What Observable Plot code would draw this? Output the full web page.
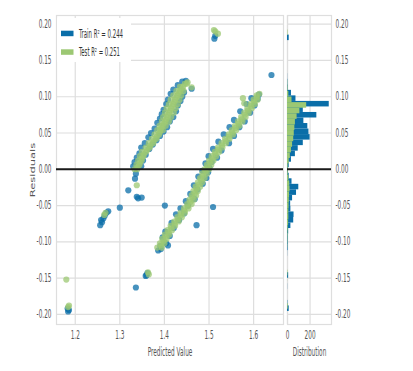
<!DOCTYPE html>
<html>
<head>
<meta charset="utf-8">
<script src="https://cdn.jsdelivr.net/npm/d3@7"></script>
<script src="https://cdn.jsdelivr.net/npm/@observablehq/plot@0.6"></script>
<style>
  html, body { margin: 0; padding: 0; background: #fff; }
  #wrap { position: relative; width: 413px; height: 371px; overflow: hidden; font-family: 'DejaVu Sans', sans-serif; }
  #wrap svg { position: absolute; top: 0; background: transparent; }
</style>
</head>
<body>
<div id="wrap"></div>
<script>
// ---- data ----
const blue = "#0a6ea8";
const green = "#9cc873";
const seriesNames = ["Train", "Test"];
const r2Values = [0.244, 0.251];
const xTicks = [1.2, 1.3, 1.4, 1.5, 1.6];
const yTicks = [-0.20, -0.15, -0.10, -0.05, 0.00, 0.05, 0.10, 0.15, 0.20];
const histTicks = [0, 200];

const trainPoints = [
  // left band (edges)
  [1.336,-0.006],[1.334,-0.013],[1.330,0.004],[1.333,0.010],[1.348,0.004],[1.352,0.012],[1.338,0.016],[1.344,0.022],
  [1.358,0.020],[1.348,0.030],[1.366,0.028],[1.356,0.036],[1.374,0.034],[1.364,0.044],[1.382,0.040],[1.370,0.050],
  [1.390,0.046],[1.378,0.056],[1.398,0.052],[1.384,0.064],[1.406,0.058],[1.390,0.070],[1.412,0.066],[1.394,0.076],
  [1.420,0.072],[1.398,0.082],[1.426,0.080],[1.404,0.090],[1.430,0.088],[1.408,0.096],[1.436,0.094],[1.414,0.104],
  [1.440,0.100],[1.420,0.110],[1.444,0.106],[1.430,0.116],[1.448,0.122],[1.440,0.121],[1.461,0.111],
  // long right band (edges, irregular)
  [1.386,-0.112],[1.391,-0.106],[1.404,-0.102],[1.396,-0.094],[1.412,-0.092],[1.402,-0.086],
  [1.421,-0.081],[1.416,-0.074],[1.433,-0.070],[1.426,-0.062],[1.444,-0.061],[1.436,-0.054],
  [1.453,-0.050],[1.448,-0.044],[1.468,-0.041],[1.458,-0.034],[1.474,-0.028],[1.466,-0.022],
  [1.486,-0.020],[1.476,-0.010],[1.494,-0.012],[1.485,-0.002],[1.501,0.002],[1.492,0.008],
  [1.498,-0.004],[1.506,0.010],[1.499,0.018],[1.518,0.016],[1.509,0.028],[1.528,0.026],[1.521,0.038],
  [1.545,0.036],[1.533,0.048],[1.556,0.046],[1.546,0.058],[1.568,0.058],[1.556,0.068],[1.580,0.066],
  [1.570,0.080],[1.592,0.078],[1.584,0.090],[1.602,0.088],[1.595,0.098],[1.609,0.097],[1.612,0.103],
  // scattered points and small clusters
  [1.184,-0.196],[1.183,-0.192],[1.186,-0.194],[1.336,-0.163],[1.360,-0.146],[1.362,-0.143],[1.358,-0.147],
  [1.256,-0.077],[1.260,-0.073],[1.263,-0.068],[1.258,-0.070],[1.266,-0.064],[1.270,-0.060],[1.274,-0.058],
  [1.300,-0.053],[1.319,-0.029],[1.338,-0.038],[1.341,-0.040],[1.349,-0.039],[1.401,-0.050],[1.509,-0.052],
  [1.472,-0.077],[1.392,-0.110],[1.408,-0.105],[1.512,0.180],[1.514,0.184],[1.640,0.130]
];

const testPoints = [
  // left band
  [1.333,0.000],[1.339,0.000],[1.337,0.006],[1.344,0.006],[1.341,0.012],[1.349,0.012],[1.345,0.018],[1.353,0.018],
  [1.350,0.024],[1.359,0.024],[1.358,0.030],[1.367,0.030],[1.365,0.036],[1.375,0.036],[1.372,0.042],[1.382,0.042],
  [1.378,0.048],[1.388,0.048],[1.384,0.054],[1.391,0.054],[1.397,0.054],[1.389,0.060],[1.396,0.060],[1.403,0.060],
  [1.394,0.066],[1.402,0.066],[1.410,0.066],[1.397,0.072],[1.406,0.072],[1.415,0.072],[1.401,0.078],[1.411,0.078],
  [1.421,0.078],[1.405,0.084],[1.415,0.084],[1.425,0.084],[1.410,0.090],[1.420,0.090],[1.430,0.090],[1.414,0.096],
  [1.424,0.096],[1.434,0.096],[1.420,0.102],[1.429,0.102],[1.438,0.102],[1.427,0.108],[1.435,0.108],[1.443,0.108],
  [1.435,0.114],[1.442,0.114],[1.446,0.118],[1.450,0.118],[1.452,0.120],[1.461,0.113],
  [1.340,0.003],[1.345,0.009],[1.349,0.015],[1.354,0.021],
  [1.362,0.027],[1.369,0.033],[1.376,0.039],[1.383,0.045],[1.390,0.051],[1.393,0.057],[1.399,0.063],[1.404,0.069],
  [1.408,0.075],[1.413,0.081],[1.418,0.087],[1.422,0.093],[1.427,0.099],[1.432,0.105],[1.439,0.111],
  // long right band
  [1.384,-0.108],[1.394,-0.108],[1.390,-0.102],[1.400,-0.102],[1.395,-0.096],[1.405,-0.096],[1.401,-0.090],
  [1.411,-0.090],[1.407,-0.084],[1.417,-0.084],[1.414,-0.078],[1.424,-0.078],[1.422,-0.072],[1.432,-0.072],
  [1.429,-0.066],[1.439,-0.066],[1.436,-0.060],[1.446,-0.060],[1.444,-0.054],[1.454,-0.054],[1.451,-0.048],
  [1.461,-0.048],[1.456,-0.042],[1.466,-0.042],[1.461,-0.036],[1.471,-0.036],[1.465,-0.030],[1.475,-0.030],
  [1.470,-0.024],[1.480,-0.024],[1.475,-0.018],[1.485,-0.018],[1.480,-0.012],[1.490,-0.012],[1.485,-0.006],
  [1.495,-0.006],[1.490,0.000],[1.500,0.000],[1.495,0.006],[1.505,0.006],[1.500,0.012],[1.510,0.012],
  [1.506,0.018],[1.516,0.018],[1.513,0.024],[1.523,0.024],[1.520,0.030],[1.530,0.030],[1.528,0.036],
  [1.538,0.036],[1.536,0.042],[1.546,0.042],[1.544,0.048],[1.554,0.048],[1.551,0.054],[1.561,0.054],
  [1.558,0.060],[1.568,0.060],[1.565,0.066],[1.575,0.066],[1.572,0.072],[1.582,0.072],[1.579,0.078],
  [1.589,0.078],[1.586,0.084],[1.596,0.084],[1.593,0.090],[1.603,0.090],[1.600,0.096],[1.609,0.096],
  [1.607,0.102],[1.613,0.104],[1.576,0.098],[1.579,0.091],
  // long right band, centre
  [1.392,-0.105],[1.398,-0.099],[1.403,-0.093],[1.409,-0.087],[1.415,-0.081],[1.423,-0.075],[1.430,-0.069],
  [1.437,-0.063],[1.445,-0.057],[1.452,-0.051],[1.458,-0.045],[1.463,-0.039],[1.468,-0.033],[1.472,-0.027],
  [1.477,-0.021],[1.482,-0.015],[1.487,-0.009],[1.492,-0.003],[1.497,0.003],[1.502,0.009],[1.508,0.015],
  [1.514,0.021],[1.521,0.027],[1.529,0.033],[1.537,0.039],[1.545,0.045],[1.552,0.051],[1.559,0.057],
  [1.566,0.063],[1.573,0.069],[1.580,0.075],[1.587,0.081],[1.594,0.087],[1.601,0.093],[1.607,0.099],
  // scattered points and small clusters
  [1.180,-0.152],[1.184,-0.190],[1.186,-0.188],[1.363,-0.142],[1.365,-0.145],[1.265,-0.063],[1.268,-0.060],
  [1.338,-0.022],[1.511,0.192],[1.520,0.187],[1.514,0.190]
];

// histograms (50 bins each): lower edge of first bin, bin width, counts
const trainBinStart = -0.196, trainBinWidth = 0.00762;
const trainCounts = [15,3,0,0,1,0,10,0,0,0, 1,5,6,6,10,30,55,58,30,28, 45,80,100,40,15,8,15,35,70,95,
                     140,200,190,180,145,260,140,370,75,35, 5,3,1,0,0,0,0,0,0,15];
const testBinStart = -0.193, testBinWidth = 0.0077;
const testCounts = [6,0,0,0,0,1,4,0,0,0, 0,2,3,4,6,10,12,12,14,16, 18,22,20,12,6,6,15,25,35,45,
                    55,60,65,70,85,110,170,40,12,4, 2,0,0,0,0,0,0,0,0,4];

// ---- build ----
const style = {fontFamily: "'DejaVu Sans', sans-serif", fontSize: "11.5px", color: "#555", background: "transparent", overflow: "visible"};
const yDomain = [-0.214, 0.212];
const fmt = d => d3.format(".2f")(d).replace("\u2212", "-");
const gridColor = "#dedede";
const dotR = 3.1;

const toPts = arr => arr.map(([x, y]) => ({x, y}));
const bins = (start, w, counts) => counts.map((c, i) => ({y1: start + i * w, y2: start + (i + 1) * w, c}));

const main = Plot.plot({
  width: 290, height: 371,
  marginLeft: 56, marginRight: 7, marginTop: 15, marginBottom: 47,
  style,
  x: {domain: [1.158, 1.667], ticks: xTicks, tickFormat: d => d.toFixed(1), tickSize: 0, tickPadding: 6,
      label: "Predicted Value", labelAnchor: "center", labelOffset: 31, labelArrow: "none"},
  y: {domain: yDomain, ticks: yTicks, tickFormat: fmt, tickSize: 0, tickPadding: 5,
      label: "Residuals", labelAnchor: "center", labelOffset: 26, labelArrow: "none"},
  marks: [
    Plot.gridX(xTicks, {stroke: gridColor, strokeOpacity: 1, strokeWidth: 1.2}),
    Plot.gridY(yTicks, {stroke: gridColor, strokeOpacity: 1, strokeWidth: 1.2}),
    Plot.frame({stroke: gridColor, strokeWidth: 1.2}),
    Plot.dot(toPts(trainPoints), {x: "x", y: "y", r: dotR, fill: blue, fillOpacity: 0.75}),
    Plot.dot(toPts(testPoints), {x: "x", y: "y", r: dotR, fill: green, fillOpacity: 0.75}),
    Plot.ruleY([0], {stroke: "#1a1a1a", strokeWidth: 2})
  ]
});
main.style.left = "0px";

const hist = Plot.plot({
  width: 133, height: 371,
  marginLeft: 7, marginRight: 82, marginTop: 15, marginBottom: 47,
  style,
  x: {domain: [0, 390], ticks: histTicks, tickSize: 0, tickPadding: 6,
      label: "Distribution", labelAnchor: "center", labelOffset: 31, labelArrow: "none"},
  y: {domain: yDomain, ticks: yTicks, tickFormat: fmt, tickSize: 0, tickPadding: 4, axis: "right", label: null},
  marks: [
    Plot.gridX(histTicks, {stroke: gridColor, strokeOpacity: 1, strokeWidth: 1.2}),
    Plot.gridY(yTicks, {stroke: gridColor, strokeOpacity: 1, strokeWidth: 1.2}),
    Plot.frame({stroke: gridColor, strokeWidth: 1.2}),
    Plot.rectX(bins(trainBinStart, trainBinWidth, trainCounts), {x1: 0, x2: "c", y1: "y1", y2: "y2", fill: blue}),
    Plot.rectX(bins(testBinStart, testBinWidth, testCounts), {x1: 0, x2: "c", y1: "y1", y2: "y2", fill: green}),
    Plot.ruleY([0], {stroke: "#1a1a1a", strokeWidth: 2})
  ]
});
hist.style.left = "280px";

const wrap = document.getElementById("wrap");
wrap.appendChild(main);
wrap.appendChild(hist);

// condensed look of the reference: squeeze horizontal text; thin the vertical label across its glyphs
const squeeze = 0.5;
for (const svg of [main, hist]) {
  svg.querySelectorAll("text").forEach(t => {
    const own = t.getAttribute("transform") || "";
    if (own.includes("rotate")) {
      t.setAttribute("transform", own + " scale(1,0.6)");
      return;
    }
    const targets = t.querySelectorAll("tspan").length ? t.querySelectorAll("tspan") : [t];
    targets.forEach(el => {
      const len = el.getComputedTextLength();
      if (len > 0) {
        el.setAttribute("textLength", (len * squeeze).toFixed(2));
        el.setAttribute("lengthAdjust", "spacingAndGlyphs");
      }
    });
  });
}

// legend, inside the main svg (upper-left corner of the frame), text fitted to the reference width
const lg = d3.select(main).append("g").attr("transform", "translate(57,18)");
lg.append("rect").attr("width", 74).attr("height", 44).attr("fill", "#fff");
[blue, green].forEach((col, i) => {
  const yTop = i === 0 ? 12.7 : 31.3;
  lg.append("rect").attr("x", 4).attr("y", yTop).attr("width", 12.5).attr("height", 5.5).attr("fill", col);
  lg.append("text").attr("x", 22).attr("y", yTop + 2.75).attr("dy", "0.36em")
    .attr("text-anchor", "start").attr("fill", "#333").attr("font-size", "11.5px")
    .attr("textLength", i === 0 ? 44 : 41).attr("lengthAdjust", "spacingAndGlyphs")
    .text(`${seriesNames[i]} R² = ${r2Values[i].toFixed(3)}`);
});
</script>
</body>
</html>
